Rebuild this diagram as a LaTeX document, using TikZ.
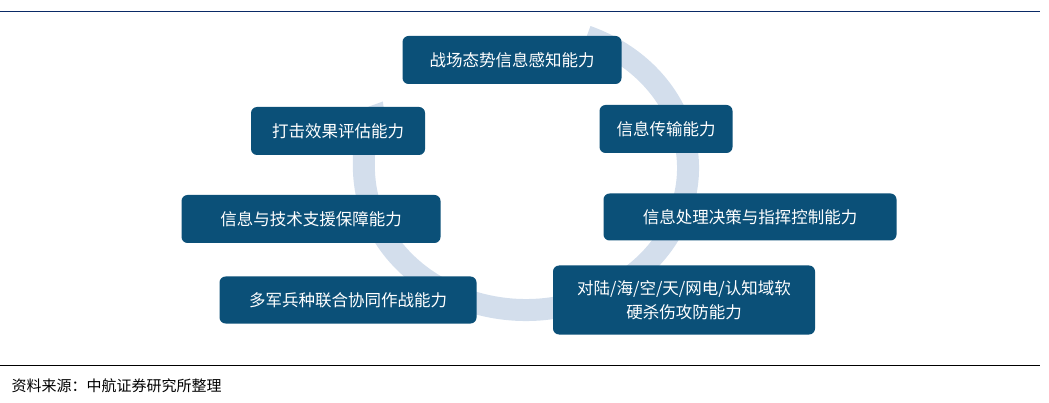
\documentclass[tikz,border=0pt]{standalone}
\usepackage{fontspec}
\setmainfont{Noto Sans CJK SC}
\usetikzlibrary{arrows.meta}
\definecolor{boxblue}{HTML}{0B5078}
\definecolor{ringblue}{HTML}{D3DEEC}
\definecolor{rulenavy}{HTML}{0A2A66}
\tikzset{
  ability/.style={rounded corners=6pt, fill=boxblue, text=white, inner sep=0pt,
    font=\fontsize{16.5pt}{24pt}\selectfont, align=center},
}
\begin{document}
\begin{tikzpicture}[x=1pt,y=-1pt]
\useasboundingbox (0,0) rectangle (1049,403);

% ring
\draw[ringblue, line width=22pt, -{Triangle[width=46pt,length=30pt]}]
  (526,168) ++(-68:162 and 142) arc[start angle=-68, end angle=208, x radius=162, y radius=142];

% rules
\draw[rulenavy, line width=0.8pt] (0,11) -- (1040,11);
\draw[black, line width=0.6pt] (0,365) -- (1040,365);

% abilities
\node[ability, minimum width=219pt, minimum height=48pt] (sense) at (512,60) {战场态势信息感知能力};
\node[ability, minimum width=133pt, minimum height=48pt] (trans) at (666,129) {信息传输能力};
\node[ability, minimum width=293pt, minimum height=47pt] (cmd) at (750,217) {信息处理决策与指挥控制能力};
\node[ability, minimum width=262pt, minimum height=69pt] (strike) at (684,300) {对陆/海/空/天/网电/认知域软\\硬杀伤攻防能力};
\node[ability, minimum width=257pt, minimum height=47pt] (joint) at (348,300) {多军兵种联合协同作战能力};
\node[ability, minimum width=259pt, minimum height=48pt] (support) at (311,219) {信息与技术支援保障能力};
\node[ability, minimum width=174pt, minimum height=48pt] (assess) at (338,131) {打击效果评估能力};

\node[anchor=west, font=\fontsize{15pt}{18pt}\selectfont] (src) at (8,386) {资料来源：中航证券研究所整理};
\end{tikzpicture}
\end{document}
